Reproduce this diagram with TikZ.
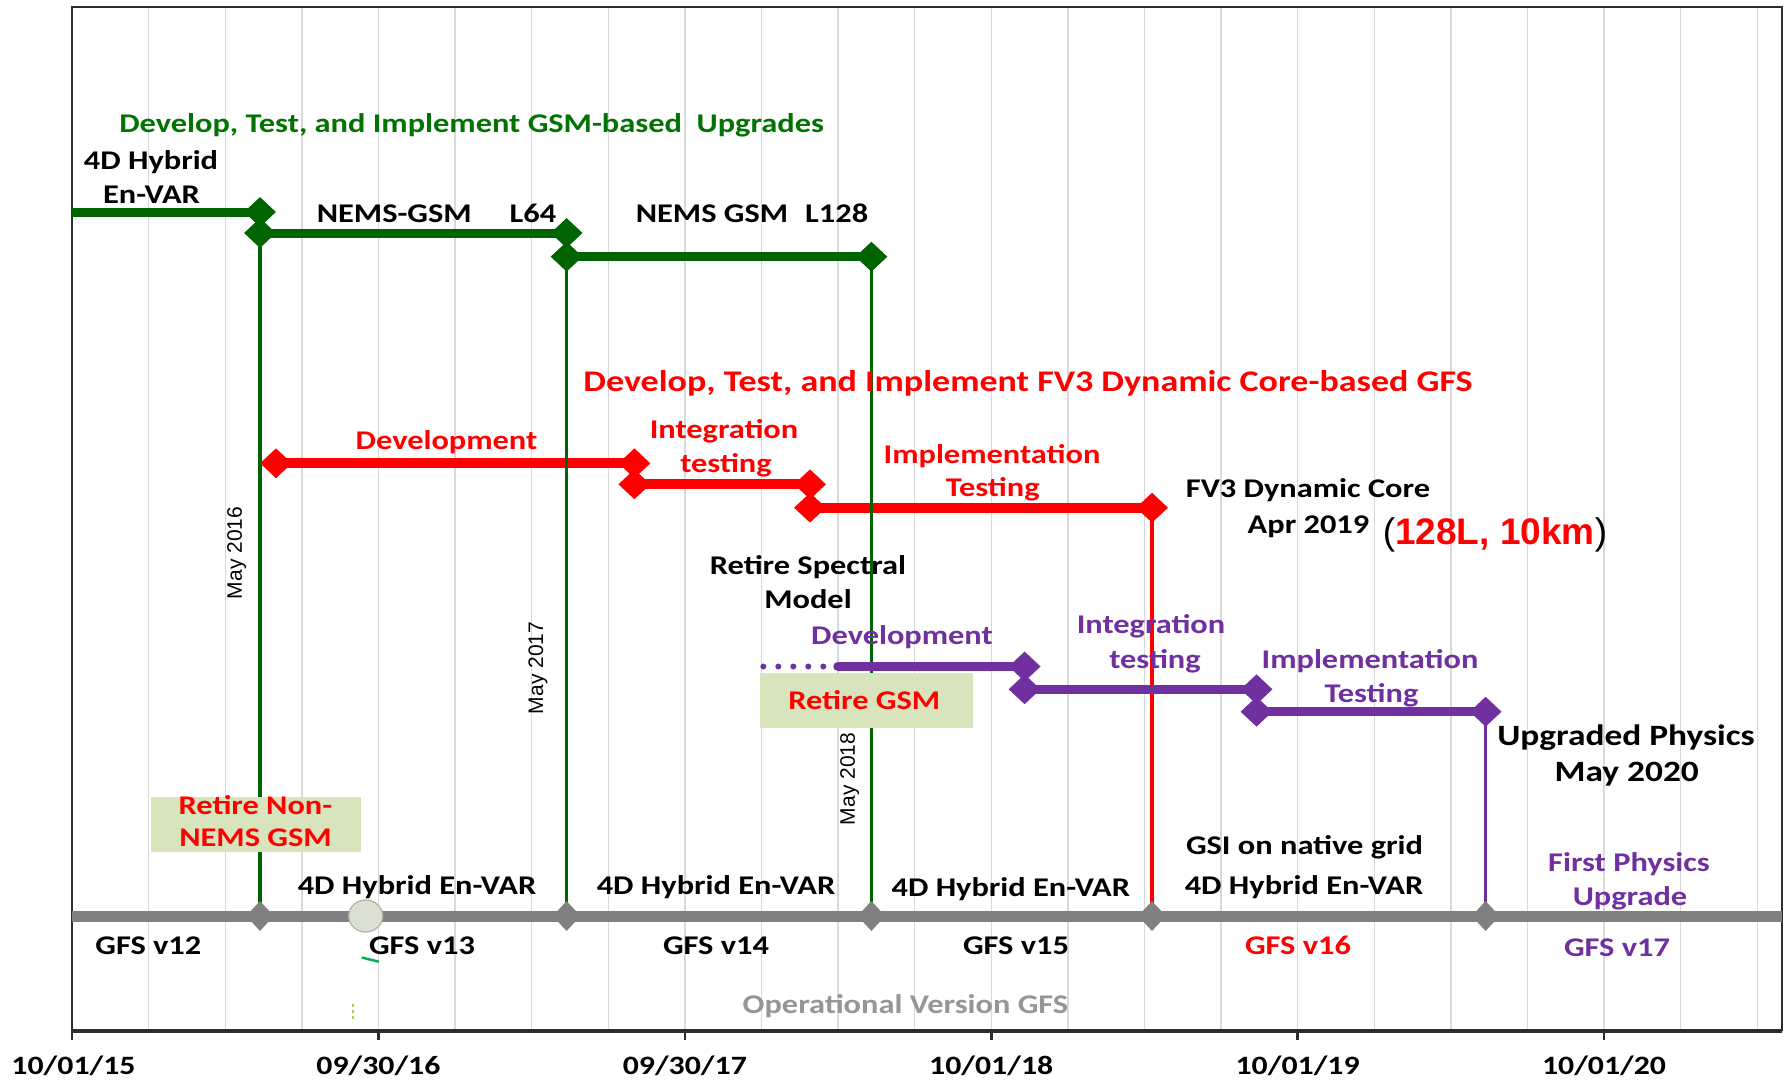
\documentclass[tikz,border=0pt]{standalone}
\usepackage{fontspec}
\usetikzlibrary{shapes.geometric}
\newfontfamily\calb{Carlito}[FakeStretch=1.2]
\newfontfamily\arl{Liberation Sans}
\newcommand\fsz[1]{\fontsize{#1}{#1}\selectfont}
\definecolor{dgreen}{RGB}{0,100,0}
\definecolor{tgreen}{RGB}{0,115,0}
\definecolor{rred}{RGB}{255,0,0}
\definecolor{ppl}{RGB}{112,48,160}
\definecolor{gbar}{RGB}{128,128,128}
\definecolor{boxg}{RGB}{216,228,188}
\definecolor{gridc}{RGB}{217,217,217}
\definecolor{optxt}{RGB}{150,150,150}
\definecolor{frm}{RGB}{45,45,45}
\definecolor{ellf}{RGB}{220,224,210}
\definecolor{elld}{RGB}{175,178,165}
\definecolor{lgreen}{RGB}{0,176,80}
\definecolor{ygreen}{RGB}{160,210,80}
\begin{document}
\begin{tikzpicture}[x=1pt,y=-1pt,
  lbl/.style={inner sep=0pt,text height=1.32em,text depth=0pt,font=\calb\bfseries\fsz{27}},
  gdia/.style={diamond,fill=dgreen,minimum width=32pt,minimum height=30pt,inner sep=0pt},
  rdia/.style={gdia,fill=rred},
  pdia/.style={gdia,fill=ppl},
  graydia/.style={gdia,fill=gbar,minimum width=28pt},
  hbar/.style={line width=9pt},
  vbar/.style={line width=3.5pt},
  retbox/.style={fill=boxg,inner sep=0pt},
  rot/.style={rotate=90,inner sep=0pt,font=\arl\fsz{21}}]
\useasboundingbox (0,0) rectangle (1787,1081);
\fill[white] (0,0) rectangle (1787,1081);
% grid
\foreach \k in {1,...,22}
  \draw[gridc,line width=1.4pt] ({72+76.6*\k},7) -- ({72+76.6*\k},1031);
% frame
\draw[frm,line width=2.6pt] (72,1040) -- (72,7) -- (1782,7) -- (1782,1031);
\draw[frm,line width=3.3pt] (72,1031) -- (1782,1031);
\foreach \t in {378.4,684.8,991.2,1297.6,1604}
  \draw[frm,line width=2.6pt] (\t,1031) -- (\t,1040);
% coordinates
\coordinate (g0) at (72,212);
\coordinate (g1) at (260,212);
\coordinate (g2) at (260,233);
\coordinate (g3) at (566.6,233);
\coordinate (g4) at (566.6,256.7);
\coordinate (g5) at (871.4,256.7);
\coordinate (r1) at (276,463.3);
\coordinate (r2) at (634.4,463.3);
\coordinate (r3) at (634.4,484.3);
\coordinate (r4) at (810,484.3);
\coordinate (r5) at (810,507.7);
\coordinate (r6) at (1152,507.7);
\coordinate (dA) at (763.3,666.5);
\coordinate (dB) at (826,666.5);
\coordinate (p0) at (838,666.5);
\coordinate (p1) at (1024.6,666.5);
\coordinate (p2) at (1024.6,689.3);
\coordinate (p3) at (1256.5,689.3);
\coordinate (p4) at (1256.5,711.7);
\coordinate (p5) at (1485.6,711.7);
\coordinate (b0) at (72,916);
\coordinate (b1) at (260,916);
\coordinate (b2) at (566.6,916);
\coordinate (b3) at (871.4,916);
\coordinate (b4) at (1152,916);
\coordinate (b5) at (1485.6,916);
\coordinate (b6) at (1782,916);
% horizontal bars
\draw[dgreen,hbar] (g0) -- (g1);
\draw[dgreen,hbar] (g2) -- (g3);
\draw[dgreen,hbar] (g4) -- (g5);
\draw[rred,line width=10pt] (r1) -- (r2);
\draw[rred,line width=10pt] (r3) -- (r4);
\draw[rred,line width=10pt] (r5) -- (r6);
% verticals
\draw[dgreen,vbar] (g2) -- (b1);
\draw[dgreen,vbar] (g4) -- (b2);
\draw[dgreen,vbar] (g5) -- (b3);
\draw[rred,vbar] (r6) -- (b4);
\draw[ppl,vbar] (p5) -- (b5);
% purple bars
\draw[ppl,line width=6pt,line cap=round,dash pattern=on 0pt off 15pt] (dA) -- (dB);
\draw[ppl,line width=9.5pt,line cap=round] (p0) -- (p1);
\draw[ppl,line width=9.5pt] (p2) -- (p3);
\draw[ppl,line width=9.5pt] (p4) -- (p5);
% boxes
\node[retbox,minimum width=210pt,minimum height=55pt] (boxA) at (255.5,824.2) {};
\node[retbox,minimum width=213pt,minimum height=55pt] (boxB) at (866.2,700.8) {};
% gray bar
\draw[gbar,line width=11pt] (b0) -- (b6);
% diamonds
\node[gdia] (G1) at (g1) {};
\node[gdia] (G2) at (g2) {};
\node[gdia] (G3) at (g3) {};
\node[gdia] (G4) at (g4) {};
\node[gdia] (G5) at (g5) {};
\node[rdia] (R1) at (r1) {};
\node[rdia] (R2) at (r2) {};
\node[rdia] (R3) at (r3) {};
\node[rdia] (R4) at (r4) {};
\node[rdia] (R5) at (r5) {};
\node[rdia] (R6) at (r6) {};
\node[pdia] (P1) at (p1) {};
\node[pdia] (P2) at (p2) {};
\node[pdia] (P3) at (p3) {};
\node[pdia] (P4) at (p4) {};
\node[pdia] (P5) at (p5) {};
\node[graydia] (B1) at (b1) {};
\node[graydia] (B2) at (b2) {};
\node[graydia] (B3) at (b3) {};
\node[graydia] (B4) at (b4) {};
\node[graydia] (B5) at (b5) {};
\node[ellipse,draw=elld,line width=1.2pt,fill=ellf,minimum width=34pt,minimum height=32pt,inner sep=0pt] (ell) at (365.7,916) {};
% artifacts
\coordinate (k1) at (361.7,957.5);
\coordinate (k2) at (378.9,961.7);
\draw[lgreen,line width=2.5pt] (k1) -- (k2);
\coordinate (k3) at (353,1004);
\coordinate (k4) at (353,1022);
\draw[ygreen,line width=1.5pt,dash pattern=on 3pt off 3pt] (k3) -- (k4);
% texts: green
\node[lbl,text=tgreen,font=\calb\bfseries\fsz{27}] (tG) at (471.6,126) {Develop, Test, and Implement GSM-based\ \ Upgrades};
\node[lbl] (t4a) at (151,163) {4D Hybrid};
\node[lbl] (t4b) at (151.5,197) {En-VAR};
\node[lbl] (tN64) at (436.5,216) {NEMS-GSM\hspace{38pt}L64};
\node[lbl] (tN128) at (752,216) {NEMS GSM\hspace{17pt}L128};
% red
\node[lbl,text=rred,font=\calb\bfseries\fsz{30}] (tR) at (1028,385) {Develop, Test, and Implement FV3 Dynamic Core-based GFS};
\node[lbl,text=rred] (trD) at (446.5,443) {Development};
\node[lbl,text=rred] (trI1) at (724,432) {Integration};
\node[lbl,text=rred] (trI2) at (726,465.7) {testing};
\node[lbl,text=rred] (trM1) at (992,456.7) {Implementation};
\node[lbl,text=rred] (trM2) at (992.7,490) {Testing};
\node[lbl] (tFV) at (1308,490.7) {FV3 Dynamic Core};
\node[lbl] (tApr) at (1308.5,527.3) {Apr 2019};
\node[inner sep=0pt,font=\arl\fsz{37}] (tKm) at (1495,535) {(\textcolor{rred}{\bfseries 128L, 10km})};
\node[lbl] (tSp1) at (808,568.3) {Retire Spectral};
\node[lbl] (tSp2) at (808,601.7) {Model};
% purple
\node[lbl,text=ppl] (tpD) at (902,638.3) {Development};
\node[lbl,text=ppl] (tpI1) at (1151,627.3) {Integration};
\node[lbl,text=ppl] (tpI2) at (1155,661.7) {testing};
\node[lbl,text=ppl] (tpM1) at (1370,661.7) {Implementation};
\node[lbl,text=ppl] (tpM2) at (1371.5,695.7) {Testing};
% boxes text
\node[lbl,text=rred] (tRG) at (864.3,703.3) {Retire GSM};
\node[lbl,text=rred] (tRN1) at (255.5,808.3) {Retire Non-};
\node[lbl,text=rred] (tRN2) at (255.5,840) {NEMS GSM};
% rotated dates
\node[rot] (m16) at (236.8,553) {May 2016};
\node[rot] (m17) at (538,668) {May 2017};
\node[rot] (m18) at (849.6,779) {May 2018};
% above bar
\node[lbl] (h1) at (417,888.3) {4D Hybrid En-VAR};
\node[lbl] (h2) at (716,888) {4D Hybrid En-VAR};
\node[lbl] (h3) at (1010.8,890) {4D Hybrid En-VAR};
\node[lbl] (h4) at (1304,888.3) {4D Hybrid En-VAR};
\node[lbl] (hGSI) at (1304.5,848.3) {GSI on native grid};
\node[lbl,text=ppl] (hF1) at (1629,865) {First Physics};
\node[lbl,text=ppl] (hF2) at (1630,899) {Upgrade};
\node[lbl,font=\calb\bfseries\fsz{29.5}] (hU1) at (1626,739) {Upgraded Physics};
\node[lbl,font=\calb\bfseries\fsz{29.5}] (hU2) at (1626.7,775) {May 2020};
% below bar
\node[lbl] (v12) at (148.4,948.3) {GFS v12};
\node[lbl] (v13) at (422,948) {GFS v13};
\node[lbl] (v14) at (716,948) {GFS v14};
\node[lbl] (v15) at (1016,948) {GFS v15};
\node[lbl,text=rred] (v16) at (1298,948) {GFS v16};
\node[lbl,text=ppl] (v17) at (1617,950) {GFS v17};
\node[lbl,text=optxt] (tOp) at (905.4,1006.7) {Operational Version GFS};
% years
\node[lbl,font=\calb\bfseries\fsz{26.5}] (y15) at (73.5,1068) {10/01/15};
\node[lbl,font=\calb\bfseries\fsz{26.5}] (y16) at (378.4,1068) {09/30/16};
\node[lbl,font=\calb\bfseries\fsz{26.5}] (y17) at (684.8,1068) {09/30/17};
\node[lbl,font=\calb\bfseries\fsz{26.5}] (y18) at (991.2,1068) {10/01/18};
\node[lbl,font=\calb\bfseries\fsz{26.5}] (y19) at (1297.6,1068) {10/01/19};
\node[lbl,font=\calb\bfseries\fsz{26.5}] (y20) at (1604,1068) {10/01/20};
\end{tikzpicture}
\end{document}
